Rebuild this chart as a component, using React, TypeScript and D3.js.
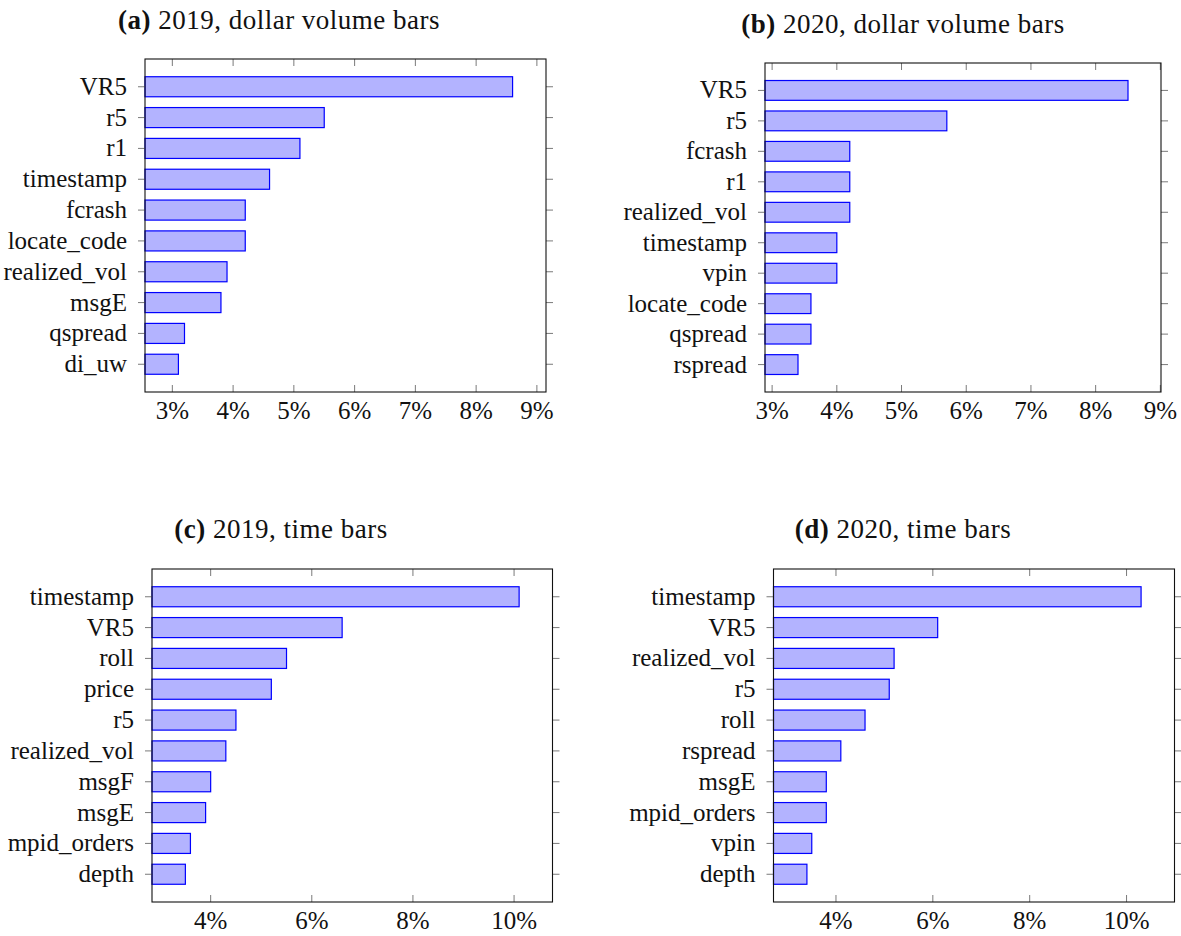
import * as d3 from 'd3';

// feature importance (%) per panel, top to bottom
const labelsA = ['VR5', 'r5', 'r1', 'timestamp', 'fcrash', 'locate_code', 'realized_vol', 'msgE', 'qspread', 'di_uw'];
const valuesA = [8.6, 5.5, 5.1, 4.6, 4.2, 4.2, 3.9, 3.8, 3.2, 3.1];

const labelsB = ['VR5', 'r5', 'fcrash', 'r1', 'realized_vol', 'timestamp', 'vpin', 'locate_code', 'qspread', 'rspread'];
const valuesB = [8.5, 5.7, 4.2, 4.2, 4.2, 4.0, 4.0, 3.6, 3.6, 3.4];

const labelsC = ['timestamp', 'VR5', 'roll', 'price', 'r5', 'realized_vol', 'msgF', 'msgE', 'mpid_orders', 'depth'];
const valuesC = [10.1, 6.6, 5.5, 5.2, 4.5, 4.3, 4.0, 3.9, 3.6, 3.5];

const labelsD = ['timestamp', 'VR5', 'realized_vol', 'r5', 'roll', 'rspread', 'msgE', 'mpid_orders', 'vpin', 'depth'];
const valuesD = [10.3, 6.1, 5.2, 5.1, 4.6, 4.1, 3.8, 3.8, 3.5, 3.4];

const ticksDollar = [3, 4, 5, 6, 7, 8, 9];
const ticksTime = [4, 6, 8, 10];

const FONT = 'Liberation Serif, Times New Roman, serif';
const FS = 25;
const TITLE_FS = 27;

type Panel = {
  tag: string;
  title: string;
  labels: string[];
  values: number[];
  ticks: number[];
  box: { left: number; top: number; right: number; bottom: number };
  titleY: number;
  titleX: number;
};

const panels: Panel[] = [
  { tag: '(a)', title: '2019, dollar volume bars', labels: labelsA, values: valuesA, ticks: ticksDollar,
    box: { left: 145, top: 59, right: 546, bottom: 392 }, titleX: 279, titleY: 29 },
  { tag: '(b)', title: '2020, dollar volume bars', labels: labelsB, values: valuesB, ticks: ticksDollar,
    box: { left: 765, top: 63, right: 1161, bottom: 392 }, titleX: 903, titleY: 33 },
  { tag: '(c)', title: '2019, time bars', labels: labelsC, values: valuesC, ticks: ticksTime,
    box: { left: 152, top: 569, right: 552.5, bottom: 902 }, titleX: 281, titleY: 538 },
  { tag: '(d)', title: '2020, time bars', labels: labelsD, values: valuesD, ticks: ticksTime,
    box: { left: 773.5, top: 569, right: 1174.5, bottom: 902 }, titleX: 903, titleY: 538 },
];

const BarPanel = ({ p }: { p: Panel }) => {
  const { left, top, right, bottom } = p.box;
  const lo = d3.min(p.values)!;
  const hi = d3.max(p.values)!;
  const pad = (hi - lo) * 0.1; // pgfplots-style enlarged limits
  const x = d3.scaleLinear().domain([lo - pad, hi + pad]).range([left, right]);
  const n = p.labels.length;
  const ypad = (n - 1) * 0.1;
  const y = d3.scaleLinear().domain([-ypad, n - 1 + ypad]).range([top, bottom]);
  const barH = (y(1) - y(0)) * 0.65;
  const tickLen = 7;

  return (
    <g>
      <text x={p.titleX} y={p.titleY} textAnchor="middle" fontFamily={FONT} fontSize={TITLE_FS}
        letterSpacing={0.5} fill="#111">
        <tspan fontWeight="bold">{p.tag}</tspan> {p.title}
      </text>

      {/* bars */}
      {p.values.map((v, i) => (
        <rect key={i} x={left} y={y(i) - barH / 2} width={x(v) - left} height={barH}
          fill="#b3b3ff" stroke="#0000ff" strokeWidth={1.2} />
      ))}

      {/* x ticks, inside at top and bottom */}
      {p.ticks.map((t) => (
        <g key={t}>
          <line x1={x(t)} x2={x(t)} y1={top} y2={top + tickLen} stroke="#7a7a7a" strokeWidth={1} />
          <line x1={x(t)} x2={x(t)} y1={bottom} y2={bottom - tickLen} stroke="#7a7a7a" strokeWidth={1} />
          <text x={x(t)} y={bottom + 27} textAnchor="middle" fontFamily={FONT} fontSize={FS} fill="#111">
            {t}%
          </text>
        </g>
      ))}

      {/* y ticks, outside on both sides */}
      {p.labels.map((l, i) => (
        <g key={l + i}>
          <line x1={left - tickLen} x2={left} y1={y(i)} y2={y(i)} stroke="#7a7a7a" strokeWidth={1} />
          <line x1={right} x2={right + tickLen} y1={y(i)} y2={y(i)} stroke="#7a7a7a" strokeWidth={1} />
          <text x={left - 18} y={y(i) + 8} textAnchor="end" fontFamily={FONT} fontSize={FS} fill="#111">
            {l}
          </text>
        </g>
      ))}

      <rect x={left} y={top} width={right - left} height={bottom - top} fill="none" stroke="#111" strokeWidth={1.1} />
    </g>
  );
};

const App = () => (
  <svg width={1181} height={936} style={{ position: 'absolute', left: 0, top: 0, background: '#fff' }}>
    <rect width={1181} height={936} fill="#fff" />
    {panels.map((p) => (
      <BarPanel key={p.tag} p={p} />
    ))}
  </svg>
);

export default App;
